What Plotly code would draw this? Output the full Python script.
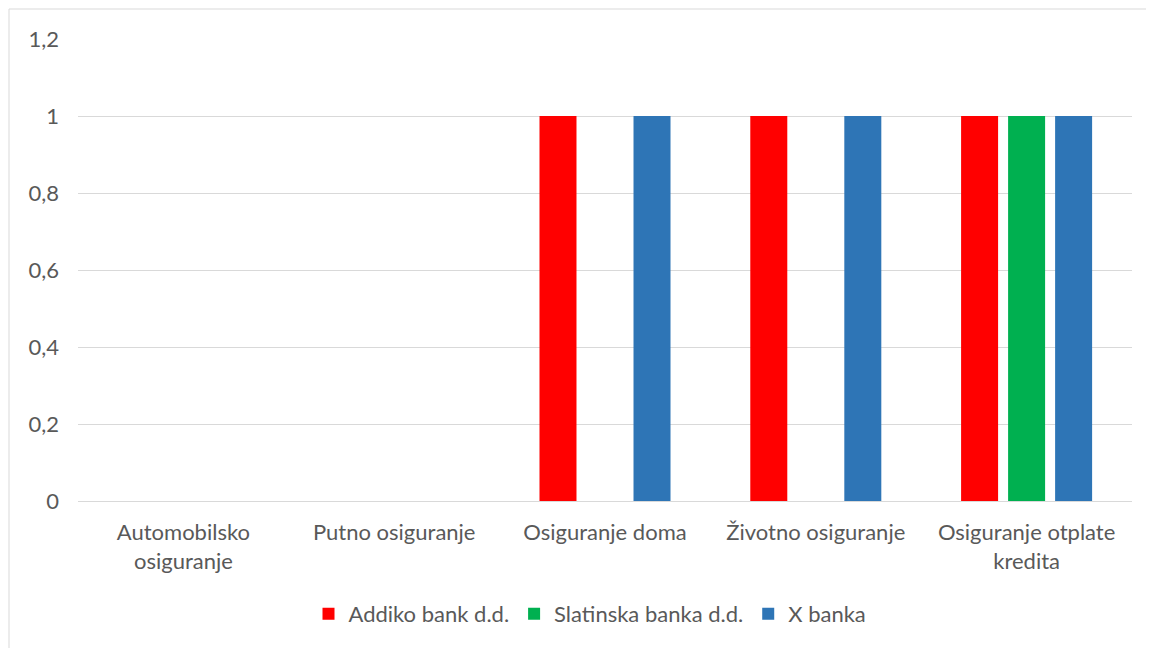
import plotly.graph_objects as go

categories = ["Automobilsko<br>osiguranje", "Putno osiguranje", "Osiguranje doma",
              "Životno osiguranje", "Osiguranje otplate<br>kredita"]
addiko = [0, 0, 1, 1, 1]
slatinska = [0, 0, 0, 0, 1]
xbanka = [0, 0, 1, 1, 1]
series_names = ["Addiko bank d.d.", "Slatinska banka d.d.", "X banka"]
colors = ["#FF0000", "#00B050", "#2E75B6"]
y_ticks = [0, 0.2, 0.4, 0.6, 0.8, 1, 1.2]
y_tick_labels = ["0", "0,2", "0,4", "0,6", "0,8", "1", "1,2"]

fig = go.Figure()
for name, vals, c in zip(series_names, [addiko, slatinska, xbanka], colors):
    fig.add_trace(go.Bar(x=categories, y=vals, name=name, marker_color=c,
                         marker_line_width=0))

OFF = 8  # page body offset
W, H = 1154, 648
L, R, T, B = 78 - OFF, W - 1132 + OFF, 39 - OFF, H - 501 + OFF
pw, ph = W - L - R, H - T - B
FS = 22
FONT = "Lato"

fig.update_layout(
    width=W, height=H,
    margin=dict(l=L, r=R, t=T, b=B),
    paper_bgcolor="white", plot_bgcolor="white",
    barmode="group", bargap=0.331, bargroupgap=0.213,
    font=dict(family=FONT, size=FS, color="#595959"),
    legend=dict(orientation="h", x=(590 - 78) / pw, xanchor="center",
                y=(501 - 614) / ph, yanchor="middle",
                font=dict(family=FONT, size=FS, color="#595959"),
                itemwidth=30, traceorder="normal"),
    showlegend=True,
)
fig.update_xaxes(showgrid=False, showline=False, ticks="", ticklabelstandoff=16,
                 tickfont=dict(family=FONT, size=FS, color="#595959"))
fig.update_yaxes(range=[0, 1.2], tickvals=y_ticks, ticktext=y_tick_labels,
                 showgrid=True, gridcolor="#D9D9D9", gridwidth=1,
                 zeroline=True, zerolinecolor="#D9D9D9", zerolinewidth=1,
                 showline=False, ticks="", ticklabelstandoff=18,
                 tickfont=dict(family=FONT, size=FS, color="#595959"))

fig.add_shape(type="rect", xref="paper", yref="paper",
              x0=(9 - 78) / pw, x1=(1148 - 78) / pw,
              y0=(501 - 660) / ph, y1=1 + (39 - 9) / ph,
              line=dict(color="#D9D9D9", width=1), fillcolor="rgba(0,0,0,0)",
              layer="below")

fig.write_html("out.html")
